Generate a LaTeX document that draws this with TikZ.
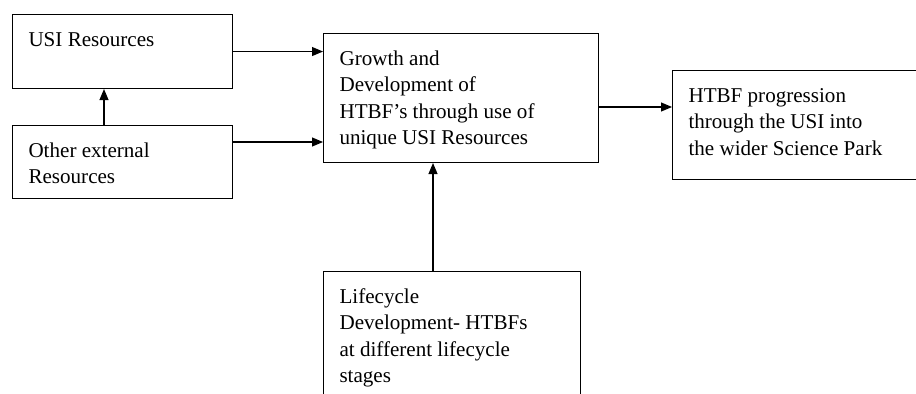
\documentclass[tikz,border=0pt]{standalone}
\usepackage{fontspec}
\setmainfont{Liberation Serif}
\usetikzlibrary{arrows.meta, positioning, calc}
\newcommand{\panel}[3]
{
	\parbox[t][#2][t]{#1}{\strut #3}
}

\begin{document}
\begin{tikzpicture}[x=0.02cm, y=-0.02cm,
	box/.style={draw, rectangle, line width=0.6pt, anchor=north west, inner xsep=0.32cm, inner ysep=0.27cm, font=\fontsize{12}{15}\selectfont},
	arr/.style={-{Triangle[length=0.22cm, width=0.18cm]}, line width=0.6pt}]
	\useasboundingbox (0,0) rectangle (916,393);
	\clip (0,0) rectangle (916,393);
	\node[box] at (12, 14) (usi){\panel{3.76cm}{0.94cm}{USI Resources}};
	\node[box] at (12, 125) (other){\panel{3.76cm}{0.92cm}{Other external\\Resources}};
	\node[box] at (323, 33) (growth){\panel{4.86cm}{2.04cm}{Growth and\\Development of\\HTBF’s through use of\\unique USI Resources}};
	\node[box] at (672, 70) (htbf){\panel{4.76cm}{1.64cm}{HTBF progression\\through the USI into\\the wider Science Park}};
	\node[box] at (323, 271) (life){\panel{4.50cm}{2.66cm}{Lifecycle\\Development- HTBFs\\at different lifecycle\\stages}};
		\draw[arr] ($(other.north west)+(92,0)$) -- ($(usi.south west)+(92,0)$);
		\draw[arr] (usi.east) -- (usi.east -| growth.west);
		\draw[arr] ($(other.north east)+(0,17)$) coordinate (o1) -- (o1 -| growth.west);
		\draw[arr] ($(growth.north east)+(0,74)$) coordinate (g1) -- (g1 -| htbf.west);
		\draw[arr] ($(life.north west)+(110,0)$) coordinate (l1) -- (l1 |- growth.south);
	\end{tikzpicture}
\end{document}
